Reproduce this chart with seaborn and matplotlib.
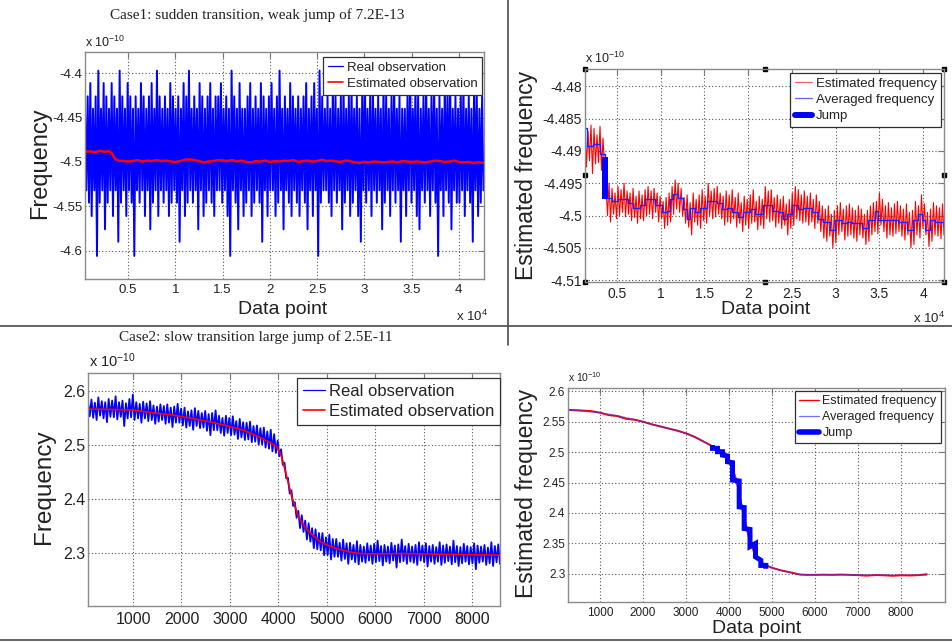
import numpy as np
import matplotlib
matplotlib.use("Agg")
import matplotlib.pyplot as plt
import seaborn as sns
from matplotlib.lines import Line2D

W, H = 952, 642

#======================================================================
# Case 1, left panel: real observation (alternating spike tops / bottoms)
c1_obs_span = (430, 42600)
c1_obs_top = [
    -4.44, -4.426, -4.411, -4.44, -4.426, -4.397, -4.44, -4.411, -4.426, -4.44,
    -4.411, -4.426, -4.44, -4.397, -4.426, -4.44, -4.411, -4.426, -4.44, -4.426,
    -4.44, -4.411, -4.426, -4.44, -4.426, -4.411, -4.44, -4.397, -4.426, -4.44,
    -4.426, -4.44, -4.411, -4.426, -4.44, -4.426, -4.44, -4.411, -4.426, -4.397,
    -4.44, -4.426, -4.44, -4.411, -4.426, -4.44, -4.426, -4.411, -4.44, -4.426,
    -4.426, -4.411, -4.44, -4.426, -4.44, -4.397, -4.426, -4.44, -4.411, -4.44,
    -4.44, -4.426, -4.411, -4.44, -4.426, -4.44, -4.411, -4.426, -4.44, -4.426,
    -4.411, -4.44, -4.426, -4.397, -4.44, -4.426, -4.44, -4.411, -4.426, -4.44,
    -4.426, -4.44, -4.426, -4.411, -4.44, -4.426, -4.411, -4.44, -4.397, -4.426,
    -4.44, -4.426, -4.44, -4.411, -4.426, -4.44, -4.426, -4.411, -4.44, -4.426,
    -4.411, -4.44, -4.426, -4.44, -4.426, -4.397, -4.44, -4.426, -4.411, -4.44,
    -4.426, -4.44, -4.411, -4.426, -4.44, -4.426, -4.411, -4.44, -4.426, -4.44,
    -4.44, -4.426, -4.397, -4.44, -4.411, -4.426, -4.44, -4.426, -4.411, -4.44,
    -4.426, -4.411, -4.44, -4.426, -4.44, -4.411, -4.426, -4.397, -4.44, -4.426,
    -4.44, -4.426, -4.411, -4.44, -4.426, -4.44, -4.411, -4.426, -4.44, -4.426]
c1_obs_bottom = [
    -4.532, -4.546, -4.561, -4.532, -4.606, -4.546, -4.532, -4.576, -4.546, -4.532,
    -4.561, -4.532, -4.59, -4.546, -4.532, -4.561, -4.532, -4.546, -4.606, -4.532,
    -4.546, -4.532, -4.561, -4.532, -4.576, -4.546, -4.532, -4.561, -4.532, -4.546,
    -4.532, -4.561, -4.546, -4.532, -4.546, -4.59, -4.532, -4.561, -4.546, -4.532,
    -4.546, -4.532, -4.576, -4.532, -4.561, -4.546, -4.532, -4.546, -4.561, -4.532,
    -4.532, -4.546, -4.532, -4.561, -4.606, -4.532, -4.546, -4.576, -4.532, -4.561,
    -4.546, -4.532, -4.561, -4.546, -4.532, -4.546, -4.59, -4.532, -4.561, -4.532,
    -4.532, -4.561, -4.546, -4.532, -4.576, -4.532, -4.546, -4.561, -4.532, -4.546,
    -4.561, -4.532, -4.546, -4.576, -4.532, -4.561, -4.532, -4.606, -4.546, -4.532,
    -4.532, -4.546, -4.561, -4.532, -4.546, -4.532, -4.576, -4.546, -4.532, -4.561,
    -4.546, -4.532, -4.561, -4.59, -4.532, -4.546, -4.532, -4.561, -4.532, -4.546,
    -4.532, -4.576, -4.546, -4.532, -4.561, -4.532, -4.546, -4.532, -4.59, -4.532,
    -4.561, -4.532, -4.546, -4.532, -4.561, -4.576, -4.532, -4.546, -4.532, -4.561,
    -4.532, -4.546, -4.606, -4.532, -4.561, -4.532, -4.546, -4.576, -4.532, -4.546,
    -4.546, -4.532, -4.561, -4.532, -4.546, -4.59, -4.532, -4.561, -4.546, -4.532]

# Case 1, left panel: estimated observation
c1_est_x = [430, 1000, 1500, 2000, 2500, 3000, 3300, 3600, 4000, 4500, 5000, 5500,
            6000, 6500, 7000, 7500, 8000, 8500, 9000, 9500, 10000, 10500, 11000,
            11500, 12000, 12500, 13000, 13500, 14000, 14500, 15000, 15500, 16000,
            16500, 17000, 17500, 18000, 18500, 19000, 19500, 20000, 20500, 21000,
            21500, 22000, 22500, 23000, 23500, 24000, 24500, 25000, 25500, 26000,
            26500, 27000, 27500, 28000, 28500, 29000, 29500, 30000, 30500, 31000,
            31500, 32000, 32500, 33000, 33500, 34000, 34500, 35000, 35500, 36000,
            36500, 37000, 37500, 38000, 38500, 39000, 39500, 40000, 40500, 41000,
            41500, 42000, 42600]
c1_est_y = [-4.4886, -4.4880, -4.4890, -4.4875, -4.4885, -4.4880, -4.4905, -4.4965,
            -4.4985, -4.4990, -4.4995, -4.4990, -4.4980, -4.4995, -4.4985, -4.4990,
            -4.4980, -4.4990, -4.4985, -4.4995, -4.5000, -4.4990, -4.4975, -4.4970,
            -4.4980, -4.4990, -4.5005, -4.4995, -4.4990, -4.4980, -4.4985, -4.4990,
            -4.4980, -4.4995, -4.4985, -4.5000, -4.5005, -4.4990, -4.4995, -4.4985,
            -4.5000, -4.4990, -4.4995, -4.4985, -4.4990, -4.4980, -4.5000, -4.4990,
            -4.4985, -4.4995, -4.4990, -4.4975, -4.4990, -4.4985, -4.4995, -4.5000,
            -4.4985, -4.4990, -4.5005, -4.5010, -4.5000, -4.5005, -4.4995, -4.5000,
            -4.5005, -4.5000, -4.4995, -4.5005, -4.4990, -4.4995, -4.5000, -4.4995,
            -4.5000, -4.5005, -4.4995, -4.4985, -4.4990, -4.5000, -4.4995, -4.4985,
            -4.5000, -4.5005, -4.5000, -4.5010, -4.5005, -4.5010]

#======================================================================
# Case 1, right panel: estimated frequency (alternating highs / lows)
c1r_est_span = (1339, 42400)
c1r_est_high = [
    -4.4855, -4.4870, -4.4860, -4.4865, -4.4875, -4.4862, -4.4880, -4.4955, -4.4950, -4.4958,
    -4.4965, -4.4955, -4.4960, -4.4950, -4.4962, -4.4965, -4.4958, -4.4970, -4.4962, -4.4968,
    -4.4960, -4.4955, -4.4962, -4.4958, -4.4965, -4.4970, -4.4978, -4.4972, -4.4965, -4.4955,
    -4.4945, -4.4950, -4.4958, -4.4972, -4.4968, -4.4980, -4.4965, -4.4975, -4.4968, -4.4960,
    -4.4970, -4.4950, -4.4962, -4.4958, -4.4955, -4.4965, -4.4970, -4.4962, -4.4968, -4.4960,
    -4.4972, -4.4965, -4.4980, -4.4970, -4.4975, -4.4968, -4.4960, -4.4978, -4.4970, -4.4975,
    -4.4955, -4.4962, -4.4960, -4.4972, -4.4968, -4.4975, -4.4970, -4.4982, -4.4975, -4.4965,
    -4.4955, -4.4960, -4.4968, -4.4962, -4.4970, -4.4965, -4.4975, -4.4968, -4.4978, -4.4985,
    -4.4990, -4.4985, -4.4998, -4.4992, -4.4985, -4.4980, -4.4990, -4.4985, -4.4982, -4.4988,
    -4.4992, -4.4985, -4.4990, -4.4998, -4.4992, -4.4985, -4.4980, -4.4978, -4.4965, -4.4975,
    -4.4985, -4.4980, -4.4988, -4.4982, -4.4978, -4.4985, -4.4990, -4.4982, -4.4995, -4.4992,
    -4.4978, -4.4985, -4.4968, -4.4982, -4.4995, -4.4990, -4.4980, -4.4985, -4.4988, -4.4982]
c1r_est_low = [
    -4.4925, -4.4915, -4.4935, -4.4920, -4.4918, -4.4930, -4.4925, -4.5000, -4.5010, -4.4998,
    -4.5005, -4.5000, -4.4995, -4.5002, -4.4998, -4.5008, -4.5003, -4.5012, -4.5005, -4.5008,
    -4.5000, -4.4998, -4.5005, -4.4995, -4.5010, -4.5005, -4.5020, -4.5015, -4.5010, -4.4998,
    -4.4990, -4.4995, -4.5000, -4.5012, -4.5018, -4.5030, -4.5010, -4.5015, -4.5020, -4.5008,
    -4.5012, -4.5000, -4.5005, -4.5002, -4.4998, -4.5005, -4.5015, -4.5010, -4.5012, -4.5005,
    -4.5018, -4.5012, -4.5025, -4.5015, -4.5020, -4.5012, -4.5010, -4.5022, -4.5015, -4.5020,
    -4.5005, -4.5010, -4.5008, -4.5018, -4.5012, -4.5020, -4.5015, -4.5030, -4.5020, -4.5015,
    -4.5005, -4.5008, -4.5012, -4.5010, -4.5015, -4.5010, -4.5020, -4.5012, -4.5025, -4.5035,
    -4.5040, -4.5032, -4.5050, -4.5042, -4.5030, -4.5025, -4.5038, -4.5032, -4.5030, -4.5035,
    -4.5040, -4.5030, -4.5035, -4.5045, -4.5040, -4.5030, -4.5025, -4.5028, -4.5015, -4.5025,
    -4.5035, -4.5030, -4.5032, -4.5028, -4.5025, -4.5032, -4.5038, -4.5030, -4.5050, -4.5045,
    -4.5030, -4.5035, -4.5020, -4.5030, -4.5048, -4.5040, -4.5030, -4.5032, -4.5036, -4.5030]

# Case 1, right panel: averaged frequency (piecewise constant)
c1r_avg_x = [1339, 1600, 2300, 3000, 3627, 4390, 5153, 6295, 6869, 7632, 8204, 9348,
             10111, 10683, 11065, 11446, 12018, 12590, 12971, 13353, 13925, 14497,
             15260, 16404, 16976, 17549, 18121, 18883, 19455, 20218, 20790, 21744,
             22697, 23460, 24032, 24413, 24986, 25748, 26321, 27274, 28037, 28609,
             29372, 29944, 30707, 31279, 31851, 32995, 33758, 34521, 34902, 35665,
             37190, 38144, 38906, 39478, 39860, 40241, 40813, 41385, 42400]
c1r_avg_y = [-4.4865, -4.4892, -4.4889, -4.4905, -4.4973, -4.4978, -4.4975, -4.4980,
             -4.4988, -4.4983, -4.4975, -4.4983, -4.4995, -4.4993, -4.4975, -4.4966,
             -4.4973, -4.4990, -4.5005, -4.4988, -4.4995, -4.4988, -4.4978, -4.4980,
             -4.4990, -4.4988, -4.4995, -4.5003, -4.4995, -4.4990, -4.4998, -4.4983,
             -4.4993, -4.4995, -4.5005, -4.4998, -4.4983, -4.4990, -4.4988, -4.4995,
             -4.5005, -4.5010, -4.5022, -4.5007, -4.5012, -4.5010, -4.5012, -4.5020,
             -4.5007, -4.4993, -4.5007, -4.5007, -4.5010, -4.5022, -4.5007, -4.4998,
             -4.5007, -4.5022, -4.5007, -4.5010, -4.5010]

# Case 1, right panel: detected jump
c1r_jump_x = [3627]
c1r_jump_top = [-4.4909]
c1r_jump_bottom = [-4.4975]

#======================================================================
# Case 2, left panel: real observation (alternating highs / lows)
c2_obs_span = (70, 8580)
c2_obs_high = [
    2.580, 2.584, 2.578, 2.588, 2.581, 2.579, 2.585, 2.582, 2.590, 2.579,
    2.582, 2.577, 2.585, 2.593, 2.579, 2.576, 2.580, 2.577, 2.581, 2.573,
    2.571, 2.575, 2.572, 2.575, 2.569, 2.571, 2.576, 2.567, 2.569, 2.562,
    2.564, 2.568, 2.563, 2.559, 2.563, 2.557, 2.559, 2.564, 2.554, 2.550,
    2.554, 2.550, 2.553, 2.544, 2.548, 2.542, 2.541, 2.543, 2.535, 2.536,
    2.531, 2.532, 2.525, 2.528, 2.520, 2.508, 2.492, 2.467, 2.439, 2.416,
    2.394, 2.378, 2.370, 2.360, 2.355, 2.346, 2.344, 2.337, 2.337, 2.329,
    2.334, 2.326, 2.326, 2.319, 2.325, 2.318, 2.319, 2.315, 2.322, 2.315,
    2.312, 2.318, 2.314, 2.317, 2.323, 2.313, 2.315, 2.312, 2.319, 2.314,
    2.316, 2.325, 2.313, 2.317, 2.312, 2.315, 2.320, 2.314, 2.318, 2.313,
    2.315, 2.311, 2.320, 2.314, 2.316, 2.312, 2.323, 2.313, 2.311, 2.317,
    2.313, 2.311, 2.318, 2.314, 2.312, 2.315, 2.310, 2.320, 2.313, 2.316]
c2_obs_low = [
    2.553, 2.550, 2.546, 2.554, 2.549, 2.542, 2.552, 2.551, 2.547, 2.552,
    2.535, 2.549, 2.551, 2.546, 2.549, 2.541, 2.549, 2.544, 2.546, 2.539,
    2.543, 2.546, 2.539, 2.541, 2.533, 2.541, 2.541, 2.536, 2.532, 2.535,
    2.528, 2.535, 2.531, 2.532, 2.526, 2.518, 2.527, 2.527, 2.522, 2.517,
    2.522, 2.518, 2.519, 2.511, 2.514, 2.509, 2.510, 2.505, 2.506, 2.501,
    2.501, 2.495, 2.493, 2.488, 2.485, 2.479, 2.463, 2.438, 2.410, 2.387,
    2.365, 2.346, 2.339, 2.325, 2.321, 2.309, 2.307, 2.305, 2.296, 2.296,
    2.288, 2.293, 2.293, 2.286, 2.289, 2.280, 2.288, 2.283, 2.279, 2.284,
    2.282, 2.286, 2.280, 2.283, 2.285, 2.277, 2.284, 2.281, 2.286, 2.273,
    2.283, 2.285, 2.280, 2.284, 2.282, 2.278, 2.286, 2.283, 2.275, 2.284,
    2.280, 2.284, 2.278, 2.282, 2.285, 2.279, 2.283, 2.276, 2.281, 2.284,
    2.279, 2.281, 2.270, 2.282, 2.284, 2.278, 2.281, 2.276, 2.283, 2.280]

# Case 2, left panel: estimated observation
c2_est_x = [70, 300, 600, 1000, 1400, 1800, 2200, 2600, 3000, 3300, 3600, 3800,
            3970, 4070, 4175, 4280, 4415, 4550, 4660, 4850, 5000, 5250, 5480, 5690,
            6000, 6500, 7000, 7500, 8000, 8580]
c2_est_y = [2.566, 2.566, 2.5655, 2.5645, 2.5595, 2.5555, 2.5495, 2.5425, 2.534,
            2.5265, 2.515, 2.5055, 2.497, 2.478, 2.441, 2.404, 2.367, 2.348, 2.337,
            2.322, 2.315, 2.307, 2.302, 2.299, 2.2985, 2.299, 2.2985, 2.2975, 2.297,
            2.296]

#======================================================================
# Case 2, right panel: estimated and averaged frequency
c2r_est_x = [263, 500, 800, 1000, 1200, 1400, 1600, 1800, 2000, 2200, 2400, 2600,
             2800, 3000, 3200, 3400, 3600, 3800, 4000, 4100, 4200, 4300, 4400, 4500,
             4600, 4700, 4800, 5000, 5200, 5400, 5651, 5800, 6000, 6200, 6400, 6600,
             6800, 7000, 7200, 7400, 7600, 7800, 8000, 8200, 8400, 8600]
c2r_est_y = [2.5690, 2.5685, 2.5670, 2.5645, 2.5605, 2.5590, 2.5545, 2.5530, 2.5497,
             2.5455, 2.5420, 2.5385, 2.5350, 2.5306, 2.5250, 2.5175, 2.5100, 2.4990,
             2.4870, 2.4700, 2.4450, 2.4100, 2.3780, 2.3500, 2.3330, 2.3230, 2.3160,
             2.3100, 2.3060, 2.3030, 2.2990, 2.2985, 2.2985, 2.2988, 2.2985, 2.2990,
             2.2985, 2.2980, 2.2972, 2.2982, 2.2978, 2.2970, 2.2978, 2.2975, 2.2980,
             2.2995]
c2r_avg_x = [263, 600, 1000, 1400, 1800, 2200, 2600, 3000, 3400, 3600, 3800, 4000,
             4200, 4300, 4400, 4500, 4700, 4900, 5200, 5651, 6000, 6500, 7000, 7500,
             8000, 8600]
c2r_avg_y = [2.5685, 2.5670, 2.5645, 2.5595, 2.5535, 2.5455, 2.5385, 2.5306, 2.5175,
             2.5100, 2.4995, 2.4870, 2.4500, 2.4100, 2.3780, 2.3500, 2.3230, 2.3130,
             2.3060, 2.2990, 2.2985, 2.2985, 2.2985, 2.2980, 2.2978, 2.2982]

# Case 2, right panel: detected jump staircase
c2r_jump_x = [3616, 3732, 3848, 3965, 4082, 4237, 4353, 4488, 4616, 4740, 4856]
c2r_jump_top = [2.5115, 2.506, 2.5005, 2.4935, 2.4825, 2.4525, 2.409, 2.373, 2.350,
                2.3225, 2.314]
c2r_jump_bottom = [2.506, 2.5005, 2.495, 2.484, 2.454, 2.410, 2.3745, 2.345, 2.328,
                   2.314, 2.3085]

#======================================================================
sns.set_theme(style="whitegrid")
plt.rcParams["font.family"] = ["Liberation Sans", "DejaVu Sans"]
plt.rcParams["axes.unicode_minus"] = False
plt.rcParams["mathtext.fontset"] = "custom"
plt.rcParams["mathtext.rm"] = "Liberation Sans"
plt.rcParams["mathtext.it"] = "Liberation Sans"

BLUE = "#0000ff"
RED = "#ff0000"
TXT = "#222222"

fig = plt.figure(figsize=(W / 100, H / 100), dpi=100)
fig.patch.set_facecolor("white")


def rect(l, t, r, b):
    return [l / W, 1 - b / H, (r - l) / W, (b - t) / H]


def alternate(span, high, low):
    # lay the highs and lows out one after the other along the x range
    n = len(high)
    x = np.linspace(span[0], span[1], 2 * n)
    y = np.empty(2 * n)
    y[0::2] = high
    y[1::2] = low
    return x, y


def frame(ax, xlim, ylim, xt, xtl, yt, ytl, fs, xpad=3.5):
    ax.set_xlim(xlim)
    ax.set_ylim(ylim)
    ax.set_xticks(xt)
    ax.set_xticklabels(xtl)
    ax.set_yticks(yt)
    ax.set_yticklabels(ytl)
    ax.set_xlabel("")
    ax.set_ylabel("")
    ax.set_facecolor("white")
    ax.grid(True, linestyle=(0, (1, 2)), color="#555555", linewidth=0.8)
    ax.tick_params(axis="both", direction="in", top=True, right=True, length=4,
                   width=0.8, color="#777777", labelsize=fs, labelcolor=TXT)
    ax.tick_params(axis="x", pad=xpad)
    ax.tick_params(axis="y", pad=2)
    for s in ax.spines.values():
        s.set_visible(True)
        s.set_color("#8a8a8a")
        s.set_linewidth(1.0)


def legend(ax, handles, labels, right, top, fs, hl):
    leg = ax.legend(handles, labels, loc="upper right",
                    bbox_to_anchor=(right / W, 1 - top / H),
                    bbox_transform=fig.transFigure, borderaxespad=0,
                    fontsize=fs, handlelength=hl, handletextpad=0.25,
                    labelspacing=0.3, borderpad=0.35, frameon=True,
                    fancybox=False, framealpha=1)
    leg.get_frame().set_edgecolor("#303030")
    leg.get_frame().set_linewidth(0.9)
    for t in leg.get_texts():
        t.set_color(TXT)


def ftext(x, y, s, **kw):
    fig.text(x / W, 1 - y / H, s, color=TXT, **kw)


SERIF = ["Liberation Serif", "DejaVu Serif"]

#----------------------------------------------------------------------
# Case 1, left
ax1 = fig.add_axes(rect(85, 52, 484, 279))
ox, oy = alternate(c1_obs_span, c1_obs_top, c1_obs_bottom)
sns.lineplot(x=ox / 1e4, y=oy, ax=ax1, sort=False, estimator=None, color=BLUE, lw=1.4)
sns.lineplot(x=np.asarray(c1_est_x) / 1e4, y=c1_est_y, ax=ax1, sort=False,
             estimator=None, color=RED, lw=1.8)
frame(ax1, (0.043, 4.266), (-4.632, -4.376),
      [0.5, 1, 1.5, 2, 2.5, 3, 3.5, 4], ["0.5", "1", "1.5", "2", "2.5", "3", "3.5", "4"],
      [-4.6, -4.55, -4.5, -4.45, -4.4], ["-4.6", "-4.55", "-4.5", "-4.45", "-4.4"], 9.5)
legend(ax1, [Line2D([], [], color=BLUE, lw=0.9), Line2D([], [], color=RED, lw=1.2)],
       ["Real observation", "Estimated observation"], 482, 57, 9.5, 1.2)
ftext(257, 15, "Case1: sudden transition, weak jump of 7.2E-13", ha="center",
      va="center", fontsize=11, family=SERIF)
ftext(85, 42, "x 10$^{-10}$", ha="left", va="center", fontsize=9)
ftext(40, 163, "Frequency", rotation=90, ha="center", va="center", fontsize=17)
ftext(283, 301, "Data point", ha="center", va="top", fontsize=14)
ftext(472, 316, "x 10$^{4}$", ha="center", va="center", fontsize=9.5)

#----------------------------------------------------------------------
# Case 1, right
ax2 = fig.add_axes(rect(585, 69, 944, 282))
ex, ey = alternate(c1r_est_span, c1r_est_high, c1r_est_low)
sns.lineplot(x=ex / 1e4, y=ey, ax=ax2, sort=False, estimator=None, color=RED, lw=0.8)
sns.lineplot(x=np.asarray(c1r_avg_x) / 1e4, y=c1r_avg_y, ax=ax2, sort=False,
             estimator=None, color="#2020ff", lw=1.0, drawstyle="steps-post")
for jx, jt, jb in zip(c1r_jump_x, c1r_jump_top, c1r_jump_bottom):
    ax2.plot([jx / 1e4, jx / 1e4], [jt, jb], color=BLUE, lw=4.3, solid_capstyle="butt")
frame(ax2, (0.134, 4.24), (-4.5103, -4.4773),
      [0.5, 1, 1.5, 2, 2.5, 3, 3.5, 4], ["0.5", "1", "1.5", "2", "2.5", "3", "3.5", "4"],
      [-4.51, -4.505, -4.5, -4.495, -4.49, -4.485, -4.48],
      ["-4.51", "-4.505", "-4.5", "-4.495", "-4.49", "-4.485", "-4.48"], 10)
ax2.plot([0, 0.5, 1, 0, 1, 0, 0.5, 1], [1, 1, 1, 0.5, 0.5, 0, 0, 0], ls="none",
         marker="s", ms=2.5, color="black", transform=ax2.transAxes, clip_on=False)
legend(ax2, [Line2D([], [], color="#ff6060", lw=0.9), Line2D([], [], color="#6060ff", lw=0.9),
             Line2D([], [], color=BLUE, lw=4.3)],
       ["Estimated frequency", "Averaged frequency", "Jump"], 941, 73, 9.5, 1.3)
ftext(585, 58, "x 10$^{-10}$", ha="left", va="center", fontsize=9)
ftext(527, 175, "Estimated frequency", rotation=90, ha="center", va="center",
      fontsize=16.5)
ftext(766, 301, "Data point", ha="center", va="top", fontsize=14)
ftext(929, 318, "x 10$^{4}$", ha="center", va="center", fontsize=9.5)

#----------------------------------------------------------------------
# Case 2, left
ax3 = fig.add_axes(rect(88, 373, 500, 606))
ox, oy = alternate(c2_obs_span, c2_obs_high, c2_obs_low)
sns.lineplot(x=ox, y=oy, ax=ax3, sort=False, estimator=None, color=BLUE, lw=1.3)
sns.lineplot(x=c2_est_x, y=c2_est_y, ax=ax3, sort=False, estimator=None, color=RED, lw=1.2)
frame(ax3, (70, 8580), (2.202, 2.633),
      [1000, 2000, 3000, 4000, 5000, 6000, 7000, 8000],
      ["1000", "2000", "3000", "4000", "5000", "6000", "7000", "8000"],
      [2.3, 2.4, 2.5, 2.6], ["2.3", "2.4", "2.5", "2.6"], 11.5, xpad=4)
legend(ax3, [Line2D([], [], color=BLUE, lw=0.9), Line2D([], [], color=RED, lw=1.2)],
       ["Real observation", "Estimated observation"], 500, 378, 12, 1.3)
ftext(256, 337, "Case2: slow transition large jump of 2.5E-11", ha="center",
      va="center", fontsize=11, family=SERIF)
ftext(89, 361, "x 10$^{-10}$", ha="left", va="center", fontsize=10.5)
ftext(44, 487, "Frequency", rotation=90, ha="center", va="center", fontsize=17.5)

#----------------------------------------------------------------------
# Case 2, right
ax4 = fig.add_axes(rect(568, 388, 945, 602))
sns.lineplot(x=c2r_est_x, y=c2r_est_y, ax=ax4, sort=False, estimator=None, color=RED, lw=1.4)
sns.lineplot(x=c2r_avg_x, y=c2r_avg_y, ax=ax4, sort=False, estimator=None,
             color="#3030ff", lw=1.0, alpha=0.55)
jx, jy = [], []
for x, t, b in zip(c2r_jump_x, c2r_jump_top, c2r_jump_bottom):
    jx += [x, x]
    jy += [t, b]
ax4.plot(jx, jy, color=BLUE, lw=3.6, solid_capstyle="butt", solid_joinstyle="miter")
frame(ax4, (256, 9023), (2.254, 2.605),
      [1000, 2000, 3000, 4000, 5000, 6000, 7000, 8000],
      ["1000", "2000", "3000", "4000", "5000", "6000", "7000", "8000"],
      [2.3, 2.35, 2.4, 2.45, 2.5, 2.55, 2.6],
      ["2.3", "2.35", "2.4", "2.45", "2.5", "2.55", "2.6"], 8.5)
legend(ax4, [Line2D([], [], color=RED, lw=1.0), Line2D([], [], color="#6f6fff", lw=0.9),
             Line2D([], [], color=BLUE, lw=4.0)],
       ["Estimated frequency", "Averaged frequency", "Jump"], 941, 391, 9, 1.6)
ftext(568, 377, "x 10$^{-10}$", ha="left", va="center", fontsize=7.5)
ftext(527, 493, "Estimated frequency", rotation=90, ha="center", va="center",
      fontsize=16.5)
ftext(757, 620, "Data point", ha="center", va="top", fontsize=14)

#----------------------------------------------------------------------
# table rules between the panels
for (x0, y0, x1, y1) in [(0, 326, W, 326), (508, 0, 508, 345), (0, 640, W, 640)]:
    fig.add_artist(Line2D([x0 / W, x1 / W], [1 - y0 / H, 1 - y1 / H],
                          transform=fig.transFigure, color="#4a4a4a", lw=1.2))

fig.savefig("out.png", dpi=100, facecolor="white")
